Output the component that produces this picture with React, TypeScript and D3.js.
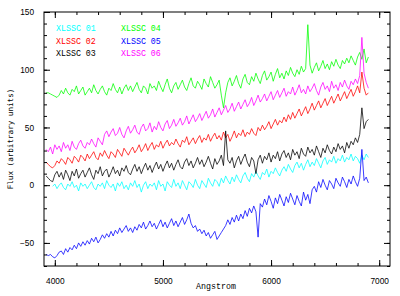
import React, { useEffect, useRef } from 'react';
import * as d3 from 'd3';

// spectra sampled every 20 A starting at 3920 A
const START = 3920;
const STEP = 20;

const fluxXlssc01 = [
  null, null, null, -1, 1, -3, 0, 2, -2, -4,
  1, -1, 3, -2, 0, -5, 2, -1, 1, -3,
  0, 3, -2, -4, 1, -1, 2, -3, 4, 0,
  -2, 1, -5, 2, -1, 3, -3, 0, -4, 2,
  -1, 4, -2, 1, -6, 0, 3, -3, 1, -1,
  2, -4, 4, -1, 1, -5, 3, 0, -2, 5,
  -1, 2, -3, 4, 0, -4, 3, 1, -2, 5,
  0, -3, 4, 1, -2, 6, 2, -1, 5, 3,
  -1, 6, 2, 8, 4, 1, 7, 3, 9, 5,
  2, 8, 11, 6, 3, 10, 7, 12, 8, 5,
  11, 9, 14, 7, 12, 10, 15, 11, 8, 13,
  16, 12, 18, 14, 11, 17, 20, 15, 19, 13,
  18, 22, 16, 20, 17, 23, 19, 15, 21, 24,
  18, 22, 20, 25, 19, 23, 21, 26, 20, 24,
  22, 27, 21, 25, 23, 19, 26, 22, 27, 24,
];
const fluxXlssc02 = [
  20, 18, 16, 15, 17, 21, 19, 23, 21, 18,
  24, 22, 19, 25, 23, 20, 26, 24, 21, 27,
  23, 26, 29, 24, 22, 28, 25, 30, 26, 23,
  29, 27, 24, 31, 28, 25, 32, 29, 26, 30,
  33, 28, 31, 35, 29, 32, 36, 30, 34, 37,
  31, 35, 33, 38, 32, 36, 39, 34, 37, 35,
  40, 36, 33, 39, 37, 42, 35, 38, 41, 36,
  40, 43, 37, 41, 39, 44, 38, 42, 45, 40,
  43, 39, 46, 41, 44, 38, 42, 47, 41, 45,
  43, 48, 42, 46, 44, 49, 45, 43, 50, 47,
  52, 48, 51, 55, 49, 53, 57, 52, 56, 54,
  59, 55, 61, 57, 63, 58, 62, 66, 60, 64,
  68, 62, 66, 71, 65, 69, 73, 67, 71, 75,
  69, 73, 77, 71, 75, 79, 73, 77, 81, 75,
  79, 83, 77, 81, 86, 80, 98, 84, 78, 80,
];
const fluxXlssc03 = [
  8, 6, 4, 3, 9, 12, 7, 11, 5, 13,
  9, 4, 12, 8, 14, 6, 10, 13, 7, 11,
  15, 9, 5, 13, 10, 16, 8, 12, 14, 7,
  11, 16, 10, 13, 8, 15, 12, 17, 11, 9,
  14, 18, 12, 16, 10, 15, 19, 13, 17, 11,
  16, 20, 14, 18, 12, 17, 21, 15, 19, 13,
  18, 22, 16, 14, 20, 23, 17, 21, 15, 19,
  24, 18, 22, 16, 20, 25, 19, 14, 23, 18,
  21, 26, 17, 47, 22, 19, 24, 15, 21, 25,
  18, 23, 27, 20, 16, 24, 21, 10, 22, 26,
  19, 25, 22, 28, 20, 26, 23, 29, 21, 27,
  30, 24, 28, 22, 31, 26, 29, 23, 32, 27,
  25, 33, 28, 31, 26, 34, 29, 24, 32, 28,
  35, 30, 27, 33, 29, 36, 31, 34, 28, 37,
  32, 38, 35, 41, 37, 44, 67, 49, 55, 57,
];
const fluxXlssc04 = [
  80, 80, 79, 78, 77, 76, 78, 82, 79, 84,
  80, 78, 83, 81, 86, 79, 82, 85, 78, 81,
  84, 80, 87, 82, 79, 83, 86, 81, 78, 84,
  82, 88, 83, 80, 85, 79, 84, 87, 82, 86,
  81, 85, 89, 83, 80, 86, 84, 79, 88, 84,
  86, 82, 90, 85, 81, 87, 92, 84, 80, 86,
  89, 83, 87, 91, 85, 82, 88, 93, 86, 84,
  90, 87, 83, 92, 88, 85, 94, 89, 84, 87,
  91, 78, 67, 80, 89, 93, 86, 90, 95, 88,
  84, 92, 96, 89, 87, 94, 90, 97, 92, 88,
  95, 99, 91, 94, 98, 90, 96, 101, 93, 97,
  92, 99, 95, 102, 97, 94, 100, 96, 103, 98,
  101, 139, 104, 97, 102, 106, 99, 103, 108, 101,
  105, 100, 107, 103, 109, 104, 101, 108, 105, 110,
  106, 112, 108, 104, 111, 115, 109, 118, 106, 111,
];
const fluxXlssc05 = [
  -60, -61, -60, -62, -63, -61, -58, -57, -60, -55,
  -58, -54, -56, -52, -55, -50, -53, -49, -52, -48,
  -51, -46, -49, -45, -50, -47, -43, -46, -42, -45,
  -40, -44, -39, -42, -37, -41, -38, -35, -40, -37,
  -41, -36, -39, -34, -37, -32, -38, -35, -31, -36,
  -33, -38, -34, -30, -36, -32, -37, -33, -29, -35,
  -31, -36, -32, -28, -34, -30, -25, -33, -37, -35,
  -40, -38, -42, -39, -44, -41, -46, -43, -40, -47,
  -44, -41, -38, -35, -30, -34, -28, -32, -26, -31,
  -25, -29, -22, -27, -20, -24, -18, -23, -45, -16,
  -19, -12, -17, -9, -14, -20, -11, -16, -8, -13,
  -18, -10, -15, -7, -12, -17, -9, -14, -18, -6,
  -13, -8, -16, -4, -1, -6, 3, -2, 5, 0,
  -4, 4, 1, -3, 6, 2, -1, 7, 3, -2,
  5, 1, 8, 3, -1, 6, 31, 4, 7, 2,
];
const fluxXlssc06 = [
  31, 29, 33, 27, 35, 31, 34, 29, 37, 32,
  35, 30, 38, 33, 31, 36, 39, 34, 32, 37,
  35, 40, 36, 33, 41, 38, 35, 44, 47, 42,
  46, 49, 43, 45, 50, 44, 41, 47, 51, 45,
  48, 52, 46, 44, 50, 53, 47, 49, 54, 46,
  51, 48, 55, 50, 47, 53, 56, 49, 52, 57,
  51, 54, 58, 52, 55, 60, 53, 57, 61, 55,
  58, 62, 56, 60, 64, 58, 61, 66, 59, 63,
  67, 61, 65, 69, 63, 66, 71, 64, 68, 72,
  66, 70, 74, 68, 71, 76, 69, 73, 78, 72,
  75, 79, 73, 77, 81, 74, 78, 82, 76, 80,
  84, 77, 81, 79, 85, 78, 82, 87, 80, 83,
  79, 86, 81, 84, 88, 82, 78, 85, 89, 83,
  86, 81, 90, 84, 87, 82, 89, 85, 91, 86,
  83, 90, 87, 92, 88, 95, 128, 97, 89, 84,
];

const names = ['XLSSC 01', 'XLSSC 02', 'XLSSC 03', 'XLSSC 04', 'XLSSC 05', 'XLSSC 06'];
const colors = ['#00ffff', '#ff0000', '#000000', '#00ff00', '#0000ff', '#ff00ff'];
const series = [fluxXlssc01, fluxXlssc02, fluxXlssc03, fluxXlssc04, fluxXlssc05, fluxXlssc06];

const xMajor = [4000, 5000, 6000, 7000];
const yMajor = [-50, 0, 50, 100, 150];

const App = () => {
  const svgRef = useRef(null);

  useEffect(() => {
    const svg = d3.select(svgRef.current);
    svg.selectAll('*').remove();

    const left = 44, top = 12, right = 390, bottom = 266;

    const x = d3.scaleLinear().domain([3900, 7100]).range([left, right]);
    const y = d3.scaleLinear().domain([-70, 150]).range([bottom, top]);

    const xMinor = d3.range(4000, 7001, 200);
    const yMinor = d3.range(-70, 151, 10);

    const tickFont = "'Liberation Sans', Arial, sans-serif";
    const monoFont = "'Liberation Mono', 'Courier New', monospace";

    // spectra
    const line = d3.line()
      .defined(d => d[1] != null)
      .x(d => x(d[0]))
      .y(d => y(d[1]));

    series.forEach((vals, k) => {
      const pts = vals.map((v, i) => [START + i * STEP, v]);
      svg.append('path')
        .datum(pts)
        .attr('d', line)
        .attr('fill', 'none')
        .attr('stroke', colors[k])
        .attr('stroke-width', 0.9)
        .attr('stroke-opacity', 0.85);
    });

    // frame
    svg.append('rect')
      .attr('x', left).attr('y', top)
      .attr('width', right - left).attr('height', bottom - top)
      .attr('fill', 'none').attr('stroke', '#000').attr('stroke-width', 1);

    const addAxis = (axis, tx, ty, labels) => {
      const g = svg.append('g').attr('transform', `translate(${tx},${ty})`).call(axis);
      g.select('.domain').remove();
      g.selectAll('.tick line').attr('stroke', '#000');
      if (!labels) g.selectAll('.tick text').remove();
      else g.selectAll('.tick text').attr('font-family', tickFont).attr('font-size', 8.3).attr('fill', '#000');
      return g;
    };

    // bottom / top
    addAxis(d3.axisBottom(x).tickValues(xMinor).tickSize(-3), 0, bottom, false);
    addAxis(d3.axisBottom(x).tickValues(xMajor).tickSize(-6).tickPadding(12).tickFormat(d3.format('d')), 0, bottom, true);
    addAxis(d3.axisTop(x).tickValues(xMinor).tickSize(-3), 0, top, false);
    addAxis(d3.axisTop(x).tickValues(xMajor).tickSize(-6), 0, top, false);
    // left / right
    addAxis(d3.axisLeft(y).tickValues(yMinor).tickSize(-3), left, 0, false);
    addAxis(d3.axisLeft(y).tickValues(yMajor).tickSize(-6).tickPadding(10).tickFormat(d3.format('d')), left, 0, true);
    addAxis(d3.axisRight(y).tickValues(yMinor).tickSize(-3), right, 0, false);
    addAxis(d3.axisRight(y).tickValues(yMajor).tickSize(-6), right, 0, false);

    // axis titles
    svg.append('text')
      .attr('x', (left + right) / 2 - 1).attr('y', 289)
      .attr('text-anchor', 'middle')
      .attr('font-family', monoFont).attr('font-size', 8.3)
      .text('Angstrom');

    svg.append('text')
      .attr('transform', `translate(13,${(top + bottom) / 2}) rotate(-90)`)
      .attr('text-anchor', 'middle')
      .attr('font-family', "'DejaVu Sans Mono', monospace").attr('font-size', 7.6)
      .text('Flux (arbitrary units)');

    // legend
    names.forEach((n, k) => {
      const col = Math.floor(k / 3);
      const row = k % 3;
      svg.append('text')
        .attr('x', 56 + col * 65)
        .attr('y', 31 + row * 12.6)
        .attr('font-family', monoFont).attr('font-size', 8.3)
        .attr('fill', colors[k])
        .text(n);
    });
  }, []);

  return (
    <svg ref={svgRef} width={400} height={296}
      style={{ position: 'absolute', left: 0, top: 0, background: '#fff' }} />
  );
};

export default App;
